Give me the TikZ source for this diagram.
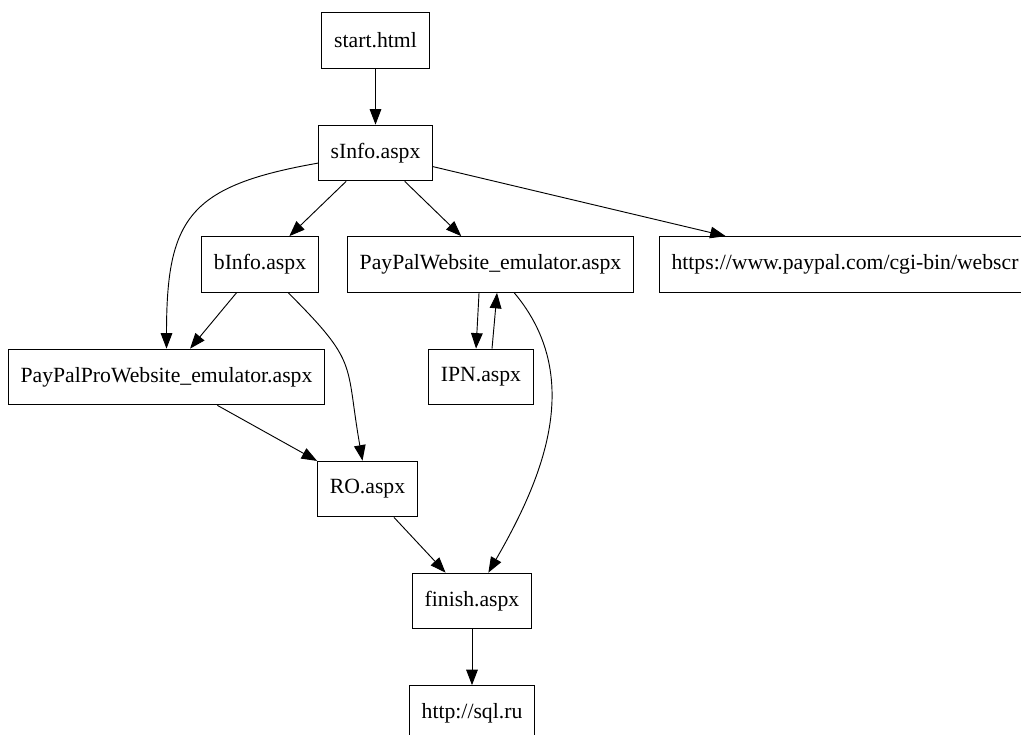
\documentclass[tikz,border=0pt]{standalone}
\usepackage{fontspec}
\setmainfont{Liberation Serif}
\usetikzlibrary{arrows.meta}
\tikzstyle{pg}=[rectangle,draw=black,line width=0.6pt,inner xsep=7.92pt,
  inner ysep=0pt,minimum width=54pt,minimum height=36pt,font=\fontsize{14}{16}\selectfont]
\tikzstyle{ed}=[-{Triangle[length=10pt,width=7.5pt]},line width=0.6pt]

\begin{document}
\begin{tikzpicture}[x=0.6452pt,y=-0.6452pt]
    \useasboundingbox (0,0) rectangle (1021,735);
    \node [style=pg] (start) at (375.5,40.5) {start.html};
    \node [style=pg] (sinfo) at (375.5,153) {sInfo.aspx};
    \node [style=pg] (binfo) at (260,264.5) {bInfo.aspx};
    \node [style=pg] (ppweb) at (490.5,264.5) {PayPalWebsite\_emulator.aspx};
    \node [style=pg] (paypal) at (845,264.5) {https://www.paypal.com/cgi-bin/webscr};
    \node [style=pg] (pppro) at (166.5,377) {PayPalProWebsite\_emulator.aspx};
    \node [style=pg] (ipn) at (481,377) {IPN.aspx};
    \node [style=pg] (ro) at (367.5,489) {RO.aspx};
    \node [style=pg] (finish) at (472,601) {finish.aspx};
    \node [style=pg] (sql) at (472,713.5) {http://sql.ru};
    \draw [style=ed] (start) to (sinfo);
    \draw [style=ed] (sinfo) to (binfo);
    \draw [style=ed] (sinfo) to (ppweb);
    \draw [style=ed] (sinfo) to (paypal);
    \draw [style=ed] (sinfo) to[out=190,in=90,looseness=1.4] (pppro);
    \draw [style=ed] (binfo) to (pppro);
    \draw [style=ed] (binfo) to[out=-45,in=100,looseness=1.4] (ro);
    \draw [style=ed] ([xshift=-7.4pt]ppweb.south) to ([xshift=-3.2pt]ipn.north);
    \draw [style=ed] ([xshift=7.1pt]ipn.north) to ([xshift=4.2pt]ppweb.south);
    \draw [style=ed] (ppweb) to[out=-50,in=60] (finish);
    \draw [style=ed] (pppro) to (ro);
    \draw [style=ed] (ro) to (finish);
    \draw [style=ed] (finish) to (sql);
  \end{tikzpicture}
\end{document}
